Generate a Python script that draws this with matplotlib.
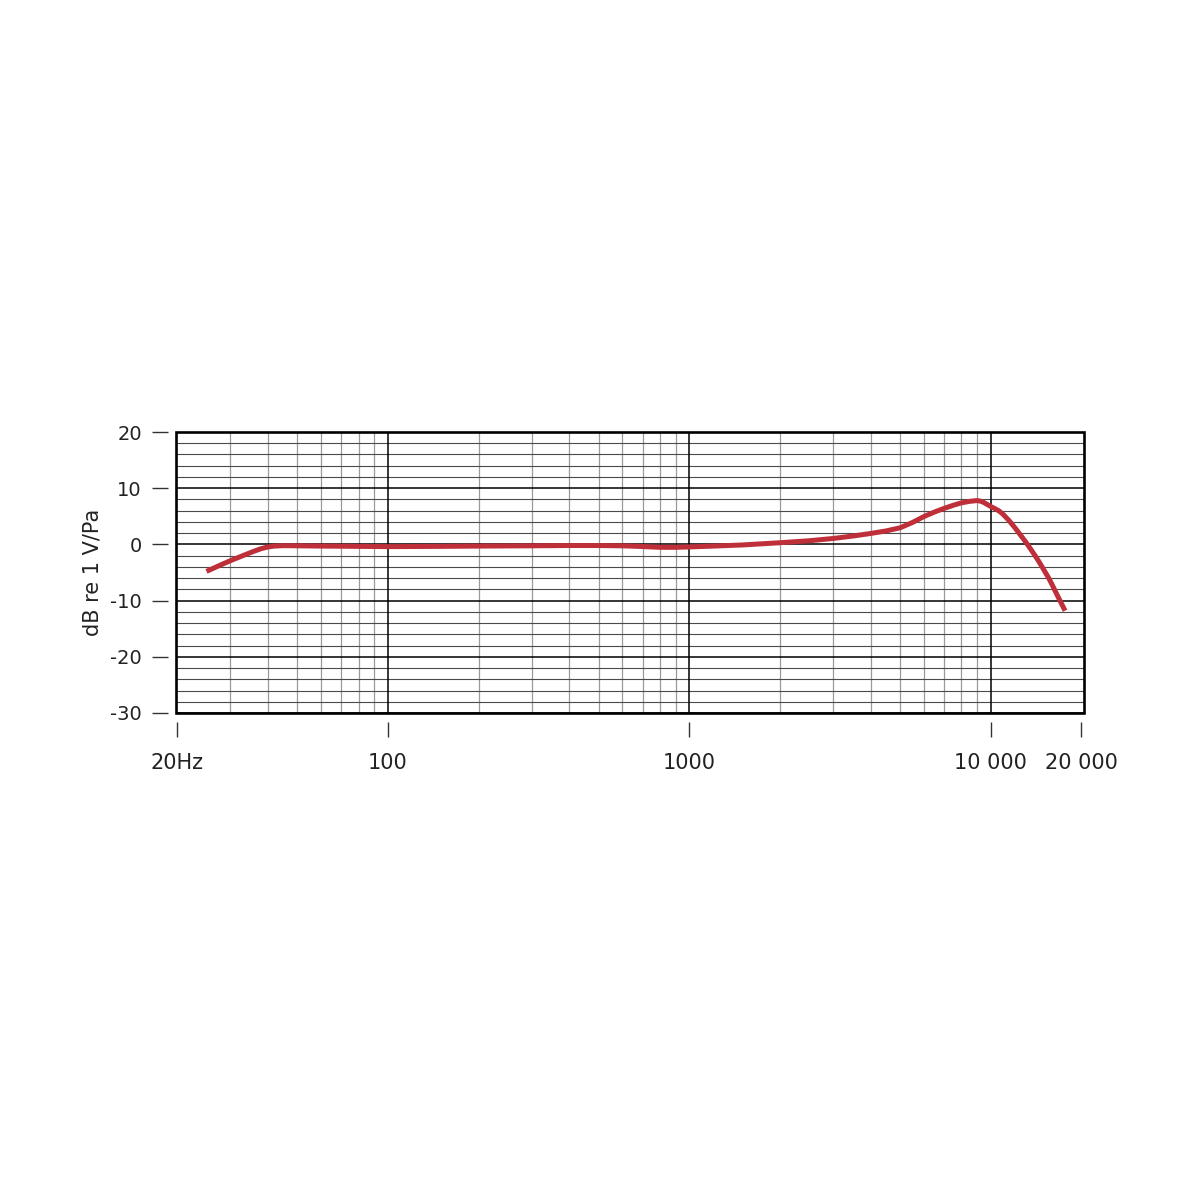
import matplotlib
matplotlib.use("Agg")
import matplotlib.pyplot as plt
from matplotlib.ticker import FixedLocator, MultipleLocator, NullFormatter
from matplotlib.patches import Rectangle

plt.rcParams['font.family'] = ['DejaVu Sans']
plt.rcParams['axes.unicode_minus'] = False

# Data
freq_hz = [25, 28, 30, 33, 36, 38, 40, 42, 45, 50, 60, 80, 100, 150, 200, 300, 400, 500,
           600, 700, 800, 900, 1000, 1200, 1500, 2000, 2500, 3000, 3500, 4000, 4500,
           5000, 5500, 6000, 6500, 7000, 7500, 8000, 8500, 9000, 9250, 9500, 10000,
           10300, 10660, 11000, 11500, 12000, 12420, 13000, 13400, 14000, 14470,
           15000, 15620, 16000, 16650, 17200, 17650]
level_db = [-4.8, -3.6, -2.9, -2.0, -1.2, -0.75, -0.45, -0.3, -0.22, -0.25, -0.3, -0.35,
            -0.4, -0.35, -0.3, -0.25, -0.2, -0.2, -0.25, -0.38, -0.52, -0.52, -0.45,
            -0.3, -0.1, 0.3, 0.65, 1.05, 1.5, 1.95, 2.4, 2.95, 3.9, 4.95, 5.75, 6.4,
            6.95, 7.4, 7.65, 7.8, 7.7, 7.45, 6.75, 6.4, 5.95, 5.35, 4.25, 3.05, 2.0,
            0.6, -0.4, -1.9, -3.1, -4.5, -6.1, -7.2, -9.1, -10.6, -11.8]

x_ticks = [20, 100, 1000, 10000, 20000]
x_tick_labels = ["20Hz", "100", "1000", "10 000", "20 000"]
x_decade_grid = [100, 1000, 10000]
x_minor_grid = [m * 10 ** e for e in (1, 2, 3) for m in range(2, 10)
                if 20 < m * 10 ** e < 10000]
y_ticks = [-30, -20, -10, 0, 10, 20]
y_label = "dB re 1 V/Pa"

fig = plt.figure(figsize=(12, 12), dpi=100)
ax = fig.add_axes([176/1200, 1-713/1200, 908/1200, 281/1200])

ax.set_xscale('log')
ax.set_xlim(19.8, 20400)
ax.set_ylim(-30, 20)

ax.xaxis.set_major_locator(FixedLocator(x_ticks))
ax.set_xticklabels(x_tick_labels)
ax.xaxis.set_minor_locator(FixedLocator(x_minor_grid))
ax.xaxis.set_minor_formatter(NullFormatter())
ax.yaxis.set_major_locator(FixedLocator(y_ticks))
ax.yaxis.set_minor_locator(MultipleLocator(2))

# grids
ax.grid(which='minor', axis='x', color='#9a9a9a', lw=0.9)
ax.grid(which='major', axis='y', color='black', lw=1.1)
ax.grid(which='minor', axis='y', color='#4a4a4a', lw=0.8)
for f in x_decade_grid:
    ax.axvline(f, color='black', lw=1.1, zorder=1.5)
ax.set_axisbelow(True)

# ticks detached from frame
for side in ['left', 'bottom', 'top', 'right']:
    ax.spines[side].set_color('none')
ax.spines['left'].set_position(('outward', 6))
ax.spines['bottom'].set_position(('outward', 6.5))
ax.tick_params(axis='y', which='major', direction='out', length=11.5, width=1.0,
               color='#333333', pad=7, labelsize=14, labelcolor='#222222')
ax.tick_params(axis='x', which='major', direction='out', length=11, width=1.0,
               color='#333333', pad=11, labelsize=15, labelcolor='#222222')
ax.tick_params(which='minor', length=0)

ax.add_patch(Rectangle((0, 0), 1, 1, transform=ax.transAxes, fill=False,
                       lw=1.9, edgecolor='black', clip_on=False, zorder=5))

ax.plot(freq_hz, level_db, color='#bf2f3a', lw=3.6, solid_capstyle='butt',
        solid_joinstyle='round', zorder=4)

fig.text(93/1200, 1-572/1200, y_label, rotation=90, ha='center', va='center',
         fontsize=15, color='#222222')

fig.savefig('out.png', dpi=100, facecolor='white')
